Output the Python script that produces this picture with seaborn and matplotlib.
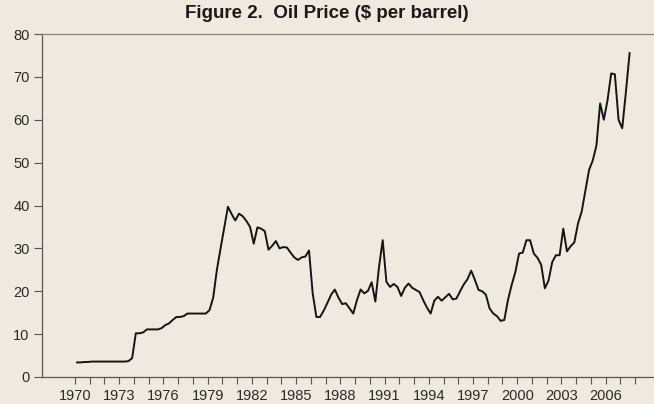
import matplotlib
matplotlib.use("Agg")
import pandas as pd
import matplotlib.pyplot as plt
import seaborn as sns

# Quarterly oil price, $ per barrel
price_1970s = [3.4, 3.4, 3.5, 3.5,
               3.6, 3.6, 3.6, 3.6,
               3.6, 3.6, 3.6, 3.6,
               3.6, 3.6, 3.7, 4.4,
               10.2, 10.2, 10.4, 11.1,
               11.1, 11.1, 11.1, 11.4,
               12.1, 12.5, 13.3, 14.0,
               14.0, 14.2, 14.8, 14.8,
               14.8, 14.8, 14.8, 14.8,
               15.6, 18.5, 25.0, 30.0]
price_1980s = [34.8, 39.7, 38.0, 36.5,
               38.1, 37.5, 36.4, 35.0,
               31.1, 34.9, 34.6, 34.0,
               29.7, 30.6, 31.7, 30.0,
               30.3, 30.2, 29.0, 27.9,
               27.3, 27.9, 28.1, 29.5,
               19.5, 14.0, 14.0, 15.5,
               17.3, 19.2, 20.4, 18.5,
               17.0, 17.2, 16.0, 14.8,
               17.9, 20.4, 19.5, 20.1]
price_1990s = [22.1, 17.6, 25.7, 31.9,
               22.2, 21.0, 21.7, 21.0,
               18.9, 20.8, 21.8, 20.8,
               20.3, 19.8, 17.9, 16.2,
               14.8, 17.8, 18.7, 17.8,
               18.6, 19.4, 18.1, 18.3,
               20.0, 21.6, 22.8, 24.8,
               22.7, 20.3, 20.0, 19.2,
               16.0, 14.8, 14.2, 13.1,
               13.3, 18.0, 21.5, 24.5]
price_2000s = [28.8, 29.0, 31.9, 31.9,
               28.8, 27.8, 26.2, 20.7,
               22.5, 26.8, 28.4, 28.4,
               34.6, 29.3, 30.5, 31.4,
               35.8, 38.6, 43.5, 48.3,
               50.5, 54.0, 63.8, 60.0,
               64.5, 70.8, 70.6, 60.0,
               58.0, 66.5, 75.6]

quarters = pd.period_range("1970Q1", "2007Q3", freq="Q")
label_years = list(range(1970, 2007, 3))
y_ticks = list(range(0, 81, 10))
title = "Figure 2.  Oil Price ($ per barrel)"

prices = price_1970s + price_1980s + price_1990s + price_2000s
df = pd.DataFrame({
    "date": quarters.year + (quarters.quarter - 0.5) / 4,
    "price": prices,
})

bg = "#f0e9df"
sns.set_style("ticks")
plt.rcParams["font.family"] = ["Liberation Sans", "DejaVu Sans"]

fig = plt.figure(figsize=(6.54, 4.04), dpi=100, facecolor=bg)
ax = fig.add_axes([42 / 654, 27 / 404, 612 / 654, 343 / 404])
ax.set_facecolor(bg)

sns.lineplot(data=df, x="date", y="price", color="#151515", linewidth=1.4, ax=ax)

ax.set_xlim(1967.76, 2009.28)
ax.set_ylim(0, 80)
ax.set_xticks(label_years)
ax.set_xticks(range(1970, 2009), minor=True)
ax.set_yticks(y_ticks)
ax.set_xlabel("")
ax.set_ylabel("")

ax.spines["right"].set_visible(False)
ax.spines["top"].set_color("#8a8580")
ax.spines["top"].set_linewidth(0.9)
for side in ["left", "bottom"]:
    ax.spines[side].set_color("#5a5652")
    ax.spines[side].set_linewidth(0.9)

ax.tick_params(axis="both", which="both", direction="out", color="#5a5652",
               labelcolor="#2a2a2a", labelsize=10.5, width=0.8)
ax.tick_params(axis="x", which="both", length=5, pad=3.5)
ax.tick_params(axis="y", length=6, pad=3)

fig.text(0.5, 1 - 13 / 404, title, ha="center", va="center",
         fontsize=13.5, fontweight="bold", color="#1a1a1a")

fig.savefig("out.png", dpi=100, facecolor=bg)
